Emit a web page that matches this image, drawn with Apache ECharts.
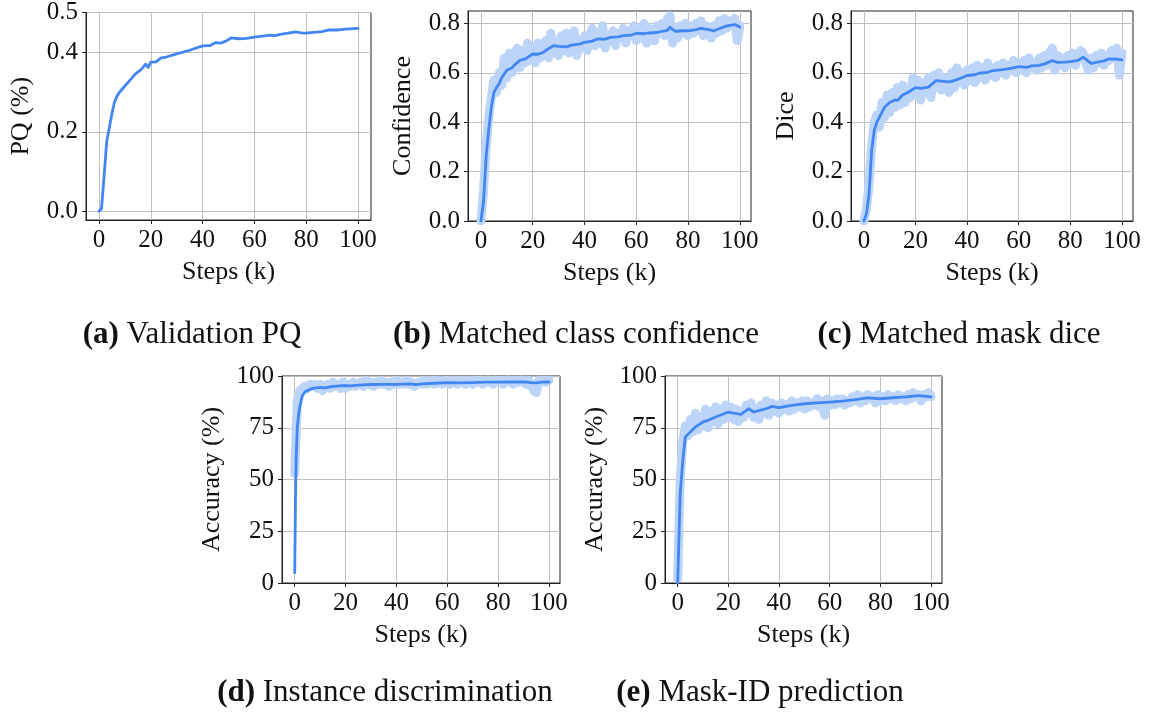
<!DOCTYPE html>
<html>
<head>
<meta charset="utf-8">
<script src="https://cdn.jsdelivr.net/npm/echarts@6/dist/echarts.min.js"></script>
<style>
html, body { margin: 0; padding: 0; background: #fff; }
#main { width: 1151px; height: 717px; }
</style>
</head>
<body>
<div id="main"></div>
<script>
// raw curves are logged every 1k steps
var rawSteps = [];
for (var s = 0; s <= 100; s++) rawSteps.push(s);

// (a) validation PQ
var pqSteps = [0, 1, 2, 3, 4, 5, 6, 7, 8, 10, 12, 14, 16, 17, 18, 19, 20, 22, 24, 26, 30, 35, 40, 43, 44, 45, 47, 49, 51, 54, 57, 60, 64, 66, 68, 70, 73, 76, 78, 80, 83, 86, 89, 92, 95, 100];
var pqValues = [0, 0.007, 0.09, 0.176, 0.21, 0.245, 0.275, 0.29, 0.3, 0.315, 0.33, 0.345, 0.355, 0.362, 0.37, 0.362, 0.375, 0.376, 0.386, 0.388, 0.396, 0.405, 0.416, 0.417, 0.421, 0.424, 0.423, 0.428, 0.436, 0.434, 0.435, 0.438, 0.441, 0.443, 0.442, 0.445, 0.448, 0.451, 0.449, 0.448, 0.45, 0.452, 0.456, 0.456, 0.458, 0.46];

// (b) matched class confidence
var confRaw = [0, 0.12, 0.3, 0.42, 0.5, 0.57, 0.52, 0.6, 0.55, 0.66, 0.58, 0.68, 0.6, 0.66, 0.7, 0.62, 0.69, 0.64, 0.72, 0.65,
  0.7, 0.64, 0.72, 0.66, 0.71, 0.73, 0.66, 0.76, 0.68, 0.72, 0.67, 0.75, 0.69, 0.76, 0.68, 0.74, 0.77, 0.67, 0.73, 0.7,
  0.75, 0.69, 0.74, 0.78, 0.71, 0.76, 0.72, 0.79, 0.7, 0.75, 0.73, 0.77, 0.71, 0.76, 0.74, 0.78, 0.72, 0.77, 0.75, 0.79,
  0.73, 0.78, 0.74, 0.8, 0.72, 0.78, 0.75, 0.73, 0.79, 0.76, 0.8, 0.75, 0.82, 0.83, 0.72, 0.78, 0.74, 0.79, 0.76, 0.8,
  0.75, 0.79, 0.76, 0.8, 0.77, 0.81, 0.75, 0.79, 0.77, 0.74, 0.79, 0.76, 0.81, 0.77, 0.82, 0.78, 0.81, 0.8, 0.82, 0.73, 0.79];
var confSteps = [0, 0.5, 1, 2, 3, 4, 5, 6, 7, 8, 9, 10, 12, 13, 15, 17, 20, 22, 24, 25, 28, 30, 33, 35, 38, 40, 43, 45, 48, 50, 53, 55, 58, 60, 63, 65, 68, 70, 72, 73, 75, 78, 80, 83, 85, 88, 90, 93, 95, 98, 100];
var confSmooth = [0, 0, 0.08, 0.26, 0.37, 0.46, 0.52, 0.54, 0.555, 0.58, 0.595, 0.61, 0.62, 0.632, 0.65, 0.655, 0.676, 0.675, 0.682, 0.69, 0.71, 0.707, 0.705, 0.712, 0.716, 0.723, 0.728, 0.737, 0.736, 0.743, 0.745, 0.75, 0.752, 0.76, 0.758, 0.761, 0.763, 0.768, 0.772, 0.784, 0.768, 0.77, 0.77, 0.775, 0.78, 0.775, 0.77, 0.782, 0.79, 0.795, 0.785];

// (c) matched mask dice
var diceRaw = [0, 0.05, 0.15, 0.3, 0.4, 0.43, 0.38, 0.48, 0.42, 0.51, 0.44, 0.52, 0.46, 0.54, 0.47, 0.55, 0.48, 0.53, 0.5, 0.58,
  0.51, 0.57, 0.49, 0.56, 0.52, 0.58, 0.5, 0.59, 0.54, 0.6, 0.53, 0.58, 0.55, 0.52, 0.6, 0.54, 0.62, 0.56, 0.6, 0.55,
  0.61, 0.57, 0.62, 0.56, 0.63, 0.58, 0.62, 0.57, 0.64, 0.59, 0.62, 0.58, 0.63, 0.6, 0.64, 0.59, 0.63, 0.61, 0.65, 0.6,
  0.64, 0.61, 0.65, 0.6, 0.66, 0.62, 0.64, 0.61, 0.66, 0.62, 0.67, 0.63, 0.68, 0.7, 0.61, 0.67, 0.63, 0.66, 0.62, 0.67,
  0.64, 0.68, 0.63, 0.67, 0.69, 0.68, 0.64, 0.61, 0.66, 0.62, 0.67, 0.64, 0.68, 0.63, 0.67, 0.65, 0.69, 0.66, 0.7, 0.59, 0.68];
var diceSteps = [0, 1, 2, 3, 4, 5, 6, 7, 8, 10, 12, 13, 15, 17, 20, 22, 25, 28, 30, 33, 35, 38, 40, 43, 45, 48, 50, 53, 55, 58, 60, 63, 65, 68, 70, 73, 75, 78, 80, 83, 85, 88, 90, 93, 95, 98, 100];
var diceSmooth = [0, 0.03, 0.11, 0.285, 0.366, 0.4, 0.42, 0.44, 0.46, 0.48, 0.49, 0.488, 0.51, 0.52, 0.54, 0.537, 0.542, 0.568, 0.566, 0.563, 0.568, 0.58, 0.589, 0.592, 0.599, 0.602, 0.609, 0.612, 0.615, 0.62, 0.625, 0.622, 0.628, 0.63, 0.636, 0.649, 0.642, 0.643, 0.645, 0.65, 0.663, 0.638, 0.642, 0.648, 0.656, 0.655, 0.652];

// (d) instance discrimination
var instRaw = [53, 88, 93, 94, 95, 94, 96, 95, 96, 94, 96, 93, 95, 96, 94, 97, 95, 96, 94, 97,
  94, 96, 95, 97, 95, 96, 97, 95, 98, 96, 97, 95, 97, 96, 98, 96, 97, 95, 97, 96,
  98, 96, 97, 96, 98, 96, 97, 95, 96, 97, 96, 98, 96, 97, 98, 96, 98, 97, 96, 98,
  97, 96, 98, 97, 96, 98, 97, 96, 98, 97, 96, 98, 97, 98, 96, 97, 98, 97, 96, 98,
  97, 98, 96, 97, 98, 97, 96, 98, 97, 98, 97, 96, 98, 95, 93, 92, 98, 97, 98, 97, 98];
var instSteps = [0, 0.3, 0.6, 1, 1.5, 2, 3, 4, 5, 7, 10, 12, 15, 20, 22, 25, 30, 35, 40, 45, 48, 50, 55, 60, 65, 70, 75, 80, 85, 90, 93, 95, 97, 100];
var instSmooth = [5, 40, 62, 75, 81, 85, 90.5, 92.3, 93, 94, 94.5, 94.3, 95, 95.4, 95.2, 95.6, 95.9, 96, 96, 96.2, 95.8, 96.2, 96.5, 96.8, 96.7, 96.8, 97, 97, 97.1, 97.2, 96.8, 96.7, 97, 97.1];

// (e) mask-ID prediction
var maskRaw = [2, 50, 68, 76, 71, 79, 73, 82, 74, 80, 76, 84, 75, 83, 78, 85, 77, 84, 79, 86,
  80, 85, 79, 84, 78, 83, 80, 86, 82, 87, 80, 84, 79, 86, 82, 88, 81, 87, 83, 86,
  82, 87, 84, 86, 83, 88, 84, 87, 85, 88, 84, 88, 85, 87, 86, 89, 85, 88, 81, 89,
  86, 88, 86, 89, 87, 89, 86, 88, 87, 90, 88, 91, 87, 90, 88, 91, 89, 90, 87, 91,
  88, 90, 88, 91, 89, 90, 88, 91, 89, 90, 88, 91, 89, 92, 90, 91, 88, 91, 90, 92, 90];
var maskSteps = [0, 0.3, 1, 2, 3, 5, 7, 10, 12, 15, 20, 22, 25, 28, 30, 35, 37, 40, 45, 50, 55, 60, 65, 70, 75, 80, 85, 90, 95, 100];
var maskSmooth = [0, 0, 43, 59, 70.5, 73, 75.4, 77.8, 78.6, 80.2, 82.6, 82.1, 81.5, 84.2, 82.6, 84.2, 85.3, 84.7, 85.8, 86.6, 87, 87.4, 87.9, 88.6, 89.4, 89, 89.5, 89.9, 90.5, 89.9];

var xTicks = [0, 20, 40, 60, 80, 100];
var pqTicks = [0, 0.2, 0.4, 0.5];
var fracTicks = [0, 0.2, 0.4, 0.6, 0.8];
var accTicks = [0, 25, 50, 75, 100];

var captions = [
  ['(a)', 'Validation PQ'],
  ['(b)', 'Matched class confidence'],
  ['(c)', 'Matched mask dice'],
  ['(d)', 'Instance discrimination'],
  ['(e)', 'Mask-ID prediction']
];

var FONT = '"Liberation Serif", "Times New Roman", serif';
var BLUE = '#4286f4';
var BAND = '#bdd4f9';

function pairs(xs, ys) {
  return xs.map(function (x, i) { return [x, ys[i]]; });
}

var panels = [
  { grid: { left: 86, top: 8, width: 285, height: 212 }, xMax: 105, yMin: -0.022, yMax: 0.5, yTicks: pqTicks, dec: 1, name: 'PQ (%)', gap: 52,
    smooth: pairs(pqSteps, pqValues), raw: null, cap: [192, 335] },
  { grid: { left: 468, top: 11, width: 283, height: 210 }, xMax: 104.3, yMin: 0, yMax: 0.85, yTicks: fracTicks, dec: 1, name: 'Confidence', gap: 52,
    smooth: pairs(confSteps, confSmooth), raw: pairs(rawSteps, confRaw), cap: [576, 335] },
  { grid: { left: 851, top: 11, width: 282, height: 210 }, xMax: 104.3, yMin: 0, yMax: 0.85, yTicks: fracTicks, dec: 1, name: 'Dice', gap: 52,
    smooth: pairs(diceSteps, diceSmooth), raw: pairs(rawSteps, diceRaw), cap: [959, 335] },
  { grid: { left: 282, top: 376, width: 278, height: 207 }, xMax: 104.3, yMin: 0, yMax: 100, yTicks: accTicks, dec: 0, name: 'Accuracy (%)', gap: 57,
    smooth: pairs(instSteps, instSmooth), raw: pairs(rawSteps, instRaw), cap: [385, 693] },
  { grid: { left: 665, top: 376, width: 277, height: 207 }, xMax: 104.3, yMin: 0, yMax: 100, yTicks: accTicks, dec: 0, name: 'Accuracy (%)', gap: 57,
    smooth: pairs(maskSteps, maskSmooth), raw: pairs(rawSteps, maskRaw), cap: [760, 693] }
];

var grids = [], xAxes = [], yAxes = [], series = [], texts = [];

panels.forEach(function (p, i) {
  grids.push(Object.assign({ show: true, borderColor: '#222', borderWidth: 1, backgroundColor: '#fff' }, p.grid));
  xAxes.push({
    type: 'value', gridIndex: i, min: -5, max: p.xMax,
    name: 'Steps (k)', nameLocation: 'middle', nameGap: 39,
    nameTextStyle: { fontFamily: FONT, fontSize: 26, color: '#111' },
    axisLine: { show: true, onZero: false, lineStyle: { color: '#222', width: 1 } },
    axisTick: { show: true, inside: false, length: 4, customValues: xTicks, lineStyle: { color: '#222' } },
    axisLabel: { customValues: xTicks, margin: 8, fontFamily: FONT, fontSize: 25, color: '#111' },
    splitLine: { show: true, lineStyle: { color: '#c0c0c0', width: 1 } }
  });
  yAxes.push({
    type: 'value', gridIndex: i, min: p.yMin, max: p.yMax,
    name: p.name, nameLocation: 'middle', nameGap: p.gap,
    nameTextStyle: { fontFamily: FONT, fontSize: 26, color: '#111' },
    axisLine: { show: true, onZero: false, lineStyle: { color: '#222', width: 1 } },
    axisTick: { show: true, inside: false, length: 4, customValues: p.yTicks, lineStyle: { color: '#222' } },
    axisLabel: {
      customValues: p.yTicks, margin: 8, fontFamily: FONT, fontSize: 25, color: '#111',
      formatter: (function (d) { return function (v) { return v.toFixed(d); }; })(p.dec)
    },
    splitLine: { show: true, lineStyle: { color: '#c0c0c0', width: 1 } }
  });
  if (p.raw) {
    series.push({
      type: 'line', xAxisIndex: i, yAxisIndex: i, data: p.raw, showSymbol: false, silent: true, z: 2,
      lineStyle: { color: BAND, width: 9, cap: 'round', join: 'round' }
    });
  }
  series.push({
    type: 'line', xAxisIndex: i, yAxisIndex: i, data: p.smooth, showSymbol: false, silent: true, z: 3,
    lineStyle: { color: BLUE, width: 2.8, cap: 'round', join: 'round' }
  });
  texts.push({
    type: 'text', x: p.cap[0], y: p.cap[1],
    style: {
      text: '{b|' + captions[i][0] + '} ' + captions[i][1],
      fontFamily: FONT, fontSize: 31, fill: '#111', align: 'center', verticalAlign: 'middle',
      rich: { b: { fontFamily: FONT, fontSize: 31, fontWeight: 'bold', fill: '#111' } }
    }
  });
});

var myChart = echarts.init(document.getElementById('main'));
var option = {
  animation: false,
  backgroundColor: '#fff',
  grid: grids,
  xAxis: xAxes,
  yAxis: yAxes,
  series: series,
  graphic: texts
};
myChart.setOption(option);
</script>
</body>
</html>
